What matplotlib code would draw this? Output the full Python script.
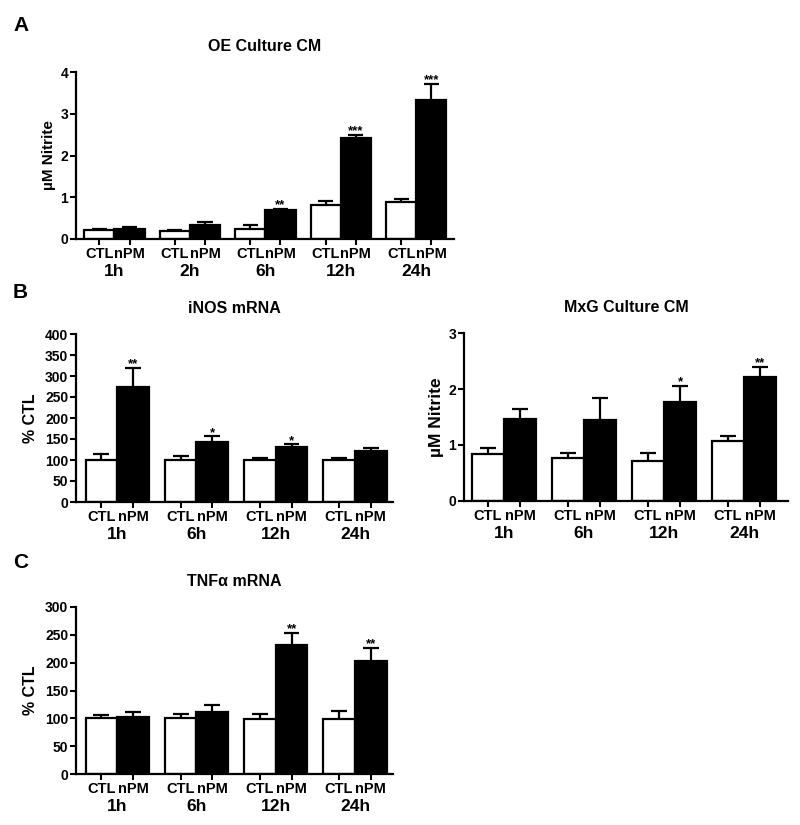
import matplotlib
matplotlib.use('Agg')
import matplotlib.pyplot as plt
import numpy as np

plt.rcParams['font.family'] = ['Liberation Sans', 'DejaVu Sans']
plt.rcParams['font.weight'] = 'bold'
plt.rcParams['axes.labelweight'] = 'bold'
plt.rcParams['axes.titleweight'] = 'bold'

conditions = ['CTL', 'nPM']

# Panel A: OE Culture CM
a_times = ['1h', '2h', '6h', '12h', '24h']
a_ctl = [0.21, 0.18, 0.24, 0.82, 0.88]
a_ctl_err = [0.03, 0.04, 0.09, 0.09, 0.07]
a_npm = [0.25, 0.33, 0.69, 2.43, 3.32]
a_npm_err = [0.03, 0.08, 0.02, 0.06, 0.40]
a_stars = ['', '', '**', '***', '***']

# Panel B left: iNOS mRNA
b1_times = ['1h', '6h', '12h', '24h']
b1_ctl = [100, 100, 100, 100]
b1_ctl_err = [14, 9, 5, 5]
b1_npm = [273, 143, 130, 122]
b1_npm_err = [47, 13, 7, 7]
b1_stars = ['**', '*', '*', '']

# Panel B right: MxG Culture CM
b2_times = ['1h', '6h', '12h', '24h']
b2_ctl = [0.84, 0.77, 0.72, 1.07]
b2_ctl_err = [0.11, 0.09, 0.14, 0.09]
b2_npm = [1.47, 1.455, 1.77, 2.22]
b2_npm_err = [0.18, 0.38, 0.29, 0.18]
b2_stars = ['', '', '*', '**']

# Panel C: TNFa mRNA
c_times = ['1h', '6h', '12h', '24h']
c_ctl = [100, 100, 99, 99]
c_ctl_err = [6, 7, 8, 14]
c_npm = [102, 112, 232, 203]
c_npm_err = [9, 12, 22, 23]
c_stars = ['', '', '**', '**']

W = 800
H = 825
fig = plt.figure(figsize=(W / 100, H / 100), dpi=100)


def px_axes(left, right, top, bottom):
    return fig.add_axes([left / W, 1 - bottom / H, (right - left) / W, (bottom - top) / H])


def panel(ax, times, ctl, ctl_err, npm, npm_err, stars, ymax, ystep, ylabel,
          title, xlim, ylabel_size=11.5, labelpad=3):
    x = np.arange(len(times))
    bw = 0.4
    ctl = np.array(ctl, float)
    npm = np.array(npm, float)
    ctl_err = np.array(ctl_err, float)
    npm_err = np.array(npm_err, float)
    xc = x - bw / 2
    xn = x + bw / 2
    ax.bar(xc, ctl, width=bw, color='white', edgecolor='black', linewidth=1.6, zorder=2)
    ax.bar(xn, npm, width=bw, color='black', edgecolor='black', linewidth=1.6, zorder=2)
    cap = bw / 4
    for xs, ys, es in ((xc, ctl, ctl_err), (xn, npm, npm_err)):
        ax.vlines(xs, ys, ys + es, color='black', lw=1.6, zorder=3)
        ax.hlines(ys + es, xs - cap, xs + cap, color='black', lw=1.6, zorder=3)
    for xi, yi, ei, s in zip(xn, npm, npm_err, stars):
        if s:
            ax.annotate(s, (xi, yi + ei), xytext=(0, 0.5), textcoords='offset points',
                        ha='center', va='baseline', fontsize=9.5)
    ax.set_xlim(*xlim)
    ax.set_ylim(0, ymax)
    ax.set_yticks(np.arange(0, ymax + ystep / 2, ystep))
    ax.yaxis.set_major_formatter(matplotlib.ticker.FormatStrFormatter('%g'))
    ticks = np.ravel(np.column_stack([xc, xn]))
    ax.set_xticks(ticks)
    ax.set_xticklabels(conditions * len(times))
    ax.tick_params(axis='x', direction='out', length=4, width=1.5, labelsize=10.5, pad=1.5)
    ax.tick_params(axis='y', direction='out', length=4, width=1.5, labelsize=10, pad=1.5)
    for sp in ('top', 'right'):
        ax.spines[sp].set_visible(False)
    for sp in ('left', 'bottom'):
        ax.spines[sp].set_linewidth(1.6)
    for i, t in enumerate(times):
        ax.annotate(t, xy=(i, 0), xycoords=('data', 'axes fraction'), xytext=(0, -18),
                    textcoords='offset points', ha='center', va='top', fontsize=12.5)
    ax.set_ylabel(ylabel, fontsize=ylabel_size, labelpad=labelpad)
    ax.set_title(title, fontsize=11.5, pad=15)


axA = px_axes(76, 454, 72, 239)
panel(axA, a_times, a_ctl, a_ctl_err, a_npm, a_npm_err, a_stars, 4, 1,
      'µM Nitrite', 'OE Culture CM', (-0.51, 4.5), ylabel_size=11)

axB1 = px_axes(76, 393, 334, 502)
panel(axB1, b1_times, b1_ctl, b1_ctl_err, b1_npm, b1_npm_err, b1_stars, 400, 50,
      '% CTL', 'iNOS mRNA', (-0.52, 3.48), ylabel_size=11.5, labelpad=5)

axB2 = px_axes(464, 788, 333, 501)
panel(axB2, b2_times, b2_ctl, b2_ctl_err, b2_npm, b2_npm_err, b2_stars, 3, 1,
      'µM Nitrite', 'MxG Culture CM', (-0.5, 3.55), ylabel_size=12.5)

axC = px_axes(76, 393, 607, 774)
panel(axC, c_times, c_ctl, c_ctl_err, c_npm, c_npm_err, c_stars, 300, 50,
      '% CTL', 'TNFα mRNA', (-0.52, 3.48), ylabel_size=11.5, labelpad=5)

for letter, ytop in (('A', 16), ('B', 283), ('C', 553)):
    fig.text(13 / W, 1 - ytop / H, letter, fontsize=15, fontweight='bold',
             ha='left', va='top')

fig.savefig('out.png', dpi=100)
